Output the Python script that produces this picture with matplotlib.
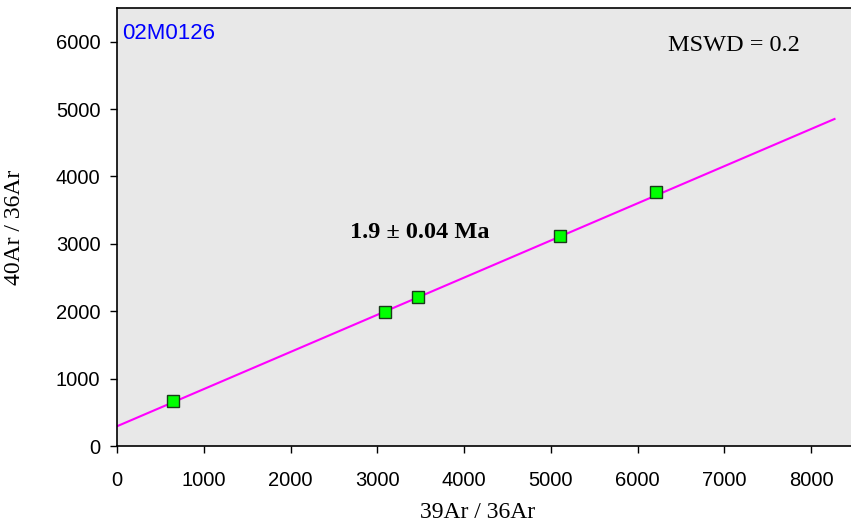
import numpy as np
import matplotlib.pyplot as plt

# Messpunkte (Isochrone)
x_pts = [645, 3088, 3468, 5104, 6210]
y_pts = [664, 1986, 2210, 3116, 3767]

# Ausgleichsgerade
fit_intercept = 293
fit_slope = 0.5514
fit_x = [0, 8270]

sample = '02M0126'
age_text = '1.9 ± 0.04 Ma'
mswd_text = 'MSWD = 0.2'

fig = plt.figure(figsize=(8.51, 5.29), dpi=100)
ax = fig.add_axes([117 / 851, 83 / 529, 1 - 117 / 851, 438 / 529])
ax.set_facecolor('#e8e8e8')

fx = np.array(fit_x)
ax.plot(fx, fit_intercept + fit_slope * fx, color='#ff00ff', lw=1.5, zorder=2)
ax.plot(x_pts, y_pts, ls='none', marker='s', ms=8.5, mfc='#00ff00',
        mec='#1a3a1a', mew=1.0, zorder=3)

ax.set_xlim(0, 8460)
ax.set_ylim(0, 6500)
ax.set_xticks(range(0, 9000, 1000))
ax.set_yticks(range(0, 7000, 1000))

sans = 'Liberation Sans'
serif = 'Liberation Serif'
for lab in ax.get_xticklabels() + ax.get_yticklabels():
    lab.set_family(sans)
    lab.set_fontsize(14.5)
ax.tick_params(direction='out', length=5, width=1)
ax.tick_params(axis='x', pad=13)
ax.tick_params(axis='y', pad=7)
ax.spines['right'].set_visible(False)
for s in ['left', 'bottom', 'top']:
    ax.spines[s].set_linewidth(1.2)

ax.set_xlabel('39Ar / 36Ar', family=serif, fontsize=17, va='center')
ax.set_ylabel('40Ar / 36Ar', family=serif, fontsize=17, va='center')
ax.xaxis.set_label_coords(0.491, -0.151)
ax.yaxis.set_label_coords(-0.139, 0.5)

ax.text(0.007, 0.929, sample, transform=ax.transAxes, color='#0000ff',
        family=sans, fontsize=16, va='baseline', ha='left')
ax.text(0.84, 0.915, mswd_text, transform=ax.transAxes, family=serif,
        fontsize=17.5, ha='center', va='center')
ax.text(3491, 3175, age_text, family=serif, fontsize=17.5, fontweight='bold',
        ha='center', va='center')

fig.savefig('out.png', dpi=100)
